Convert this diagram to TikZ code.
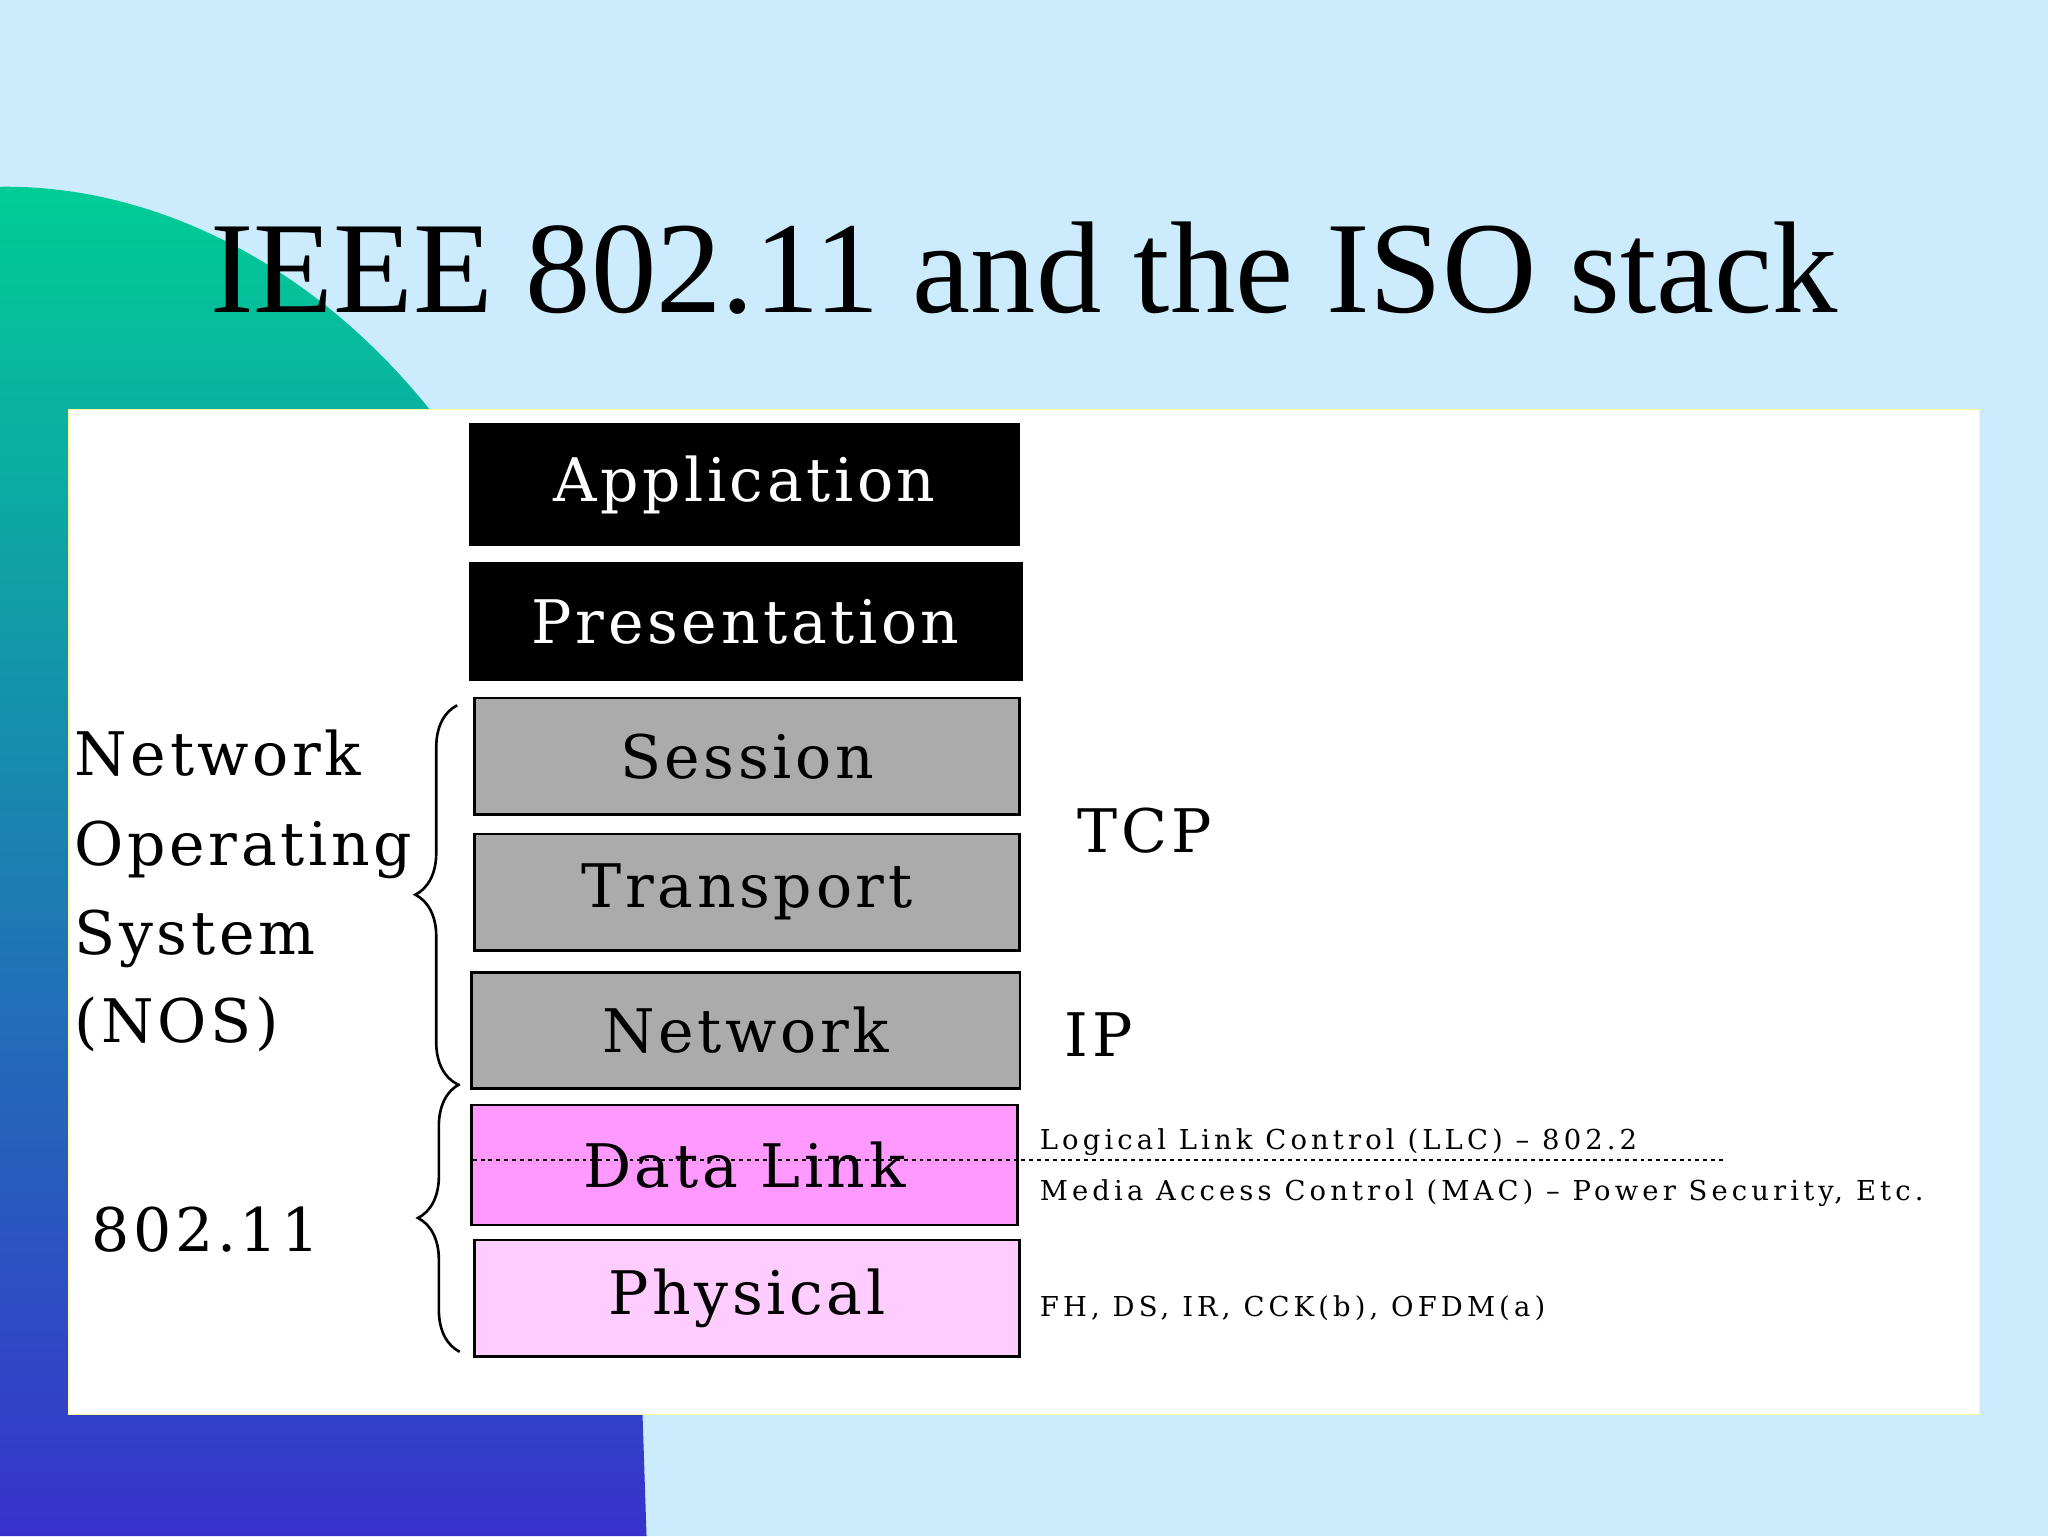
\documentclass[tikz,border=0pt]{standalone}
\usepackage{fontspec}
\setmainfont{Liberation Serif}
\newfontfamily\spaced[LetterSpace=6]{DejaVu Serif}
\newfontfamily\wide[LetterSpace=15]{DejaVu Serif}
\usetikzlibrary{decorations.pathreplacing}
\definecolor{bg}{RGB}{204,235,253}
\definecolor{gtop}{RGB}{0,205,150}
\definecolor{gbot}{RGB}{55,50,205}
\begin{document}
\begin{tikzpicture}[x=1pt,y=-1pt,
  layer/.style={draw=black,line width=2pt,minimum width=417pt,minimum height=89pt,inner sep=0pt,font=\spaced\fontsize{46}{50}\selectfont},
  lbl/.style={anchor=base west,inner sep=0pt,font=\spaced\fontsize{46}{50}\selectfont},
  small/.style={anchor=base west,inner sep=0pt,font=\wide\fontsize{21}{24}\selectfont},
  br/.style={decorate,decoration={brace,amplitude=32pt,raise=0pt},line width=2pt}]
\fill[bg] (0,0) rectangle (1568,1176);
\useasboundingbox (0,0) rectangle (1568,1176);
\shade[top color=gtop,bottom color=gbot] (0,143) .. controls (200,140) and (440,320) .. (480,720) -- (495,1176) -- (0,1176) -- cycle;
\filldraw[fill=white,draw=yellow!40!white] (52,313) rectangle (1515,1083);
\node[font=\fontsize{100}{110}\selectfont] (title) at (784,205) {IEEE 802.11 and the ISO stack};
\node[layer,fill=black,text=white,minimum width=420pt,minimum height=92pt] (app) at (570,371) {Application};
\node[layer,fill=black,text=white,minimum width=422pt] (pres) at (571,476) {Presentation};
\node[layer,fill=black!33] (sess) at (572,579) {Session};
\node[layer,fill=black!33] (trans) at (572,683) {Transport};
\node[layer,fill=black!33,minimum width=420pt] (net) at (571,789) {Network};
\node[layer,fill={rgb,255:red,255;green,153;blue,255},minimum width=418pt,minimum height=92pt] (dl) at (570,892) {Data Link};
\node[layer,fill={rgb,255:red,255;green,204;blue,255}] (phy) at (572,994) {Physical};
\draw[dashed,line width=1.5pt] (362,888) -- (1320,888);
\node[lbl] (n1) at (57,594) {Network};
\node[lbl] (n2) at (57,663) {Operating};
\node[lbl] (n3) at (57,731) {System};
\node[lbl] (n4) at (57,798) {(NOS)};
\node[lbl] (w) at (70,958) {802.11};
\node[lbl] (tcp) at (825,653) {TCP};
\node[lbl] (ip) at (815,809) {IP};
\node[small] (llc) at (796,880) {Logical Link Control (LLC) – 802.2};
\node[small] (mac) at (796,919) {Media Access Control (MAC) – Power Security, Etc.};
\node[small] (fh) at (796,1008) {FH, DS, IR, CCK(b), OFDM(a)};
\draw[br] (350,830) -- (350,540);
\draw[br] (352,1035) -- (352,830);
\end{tikzpicture}
\end{document}
